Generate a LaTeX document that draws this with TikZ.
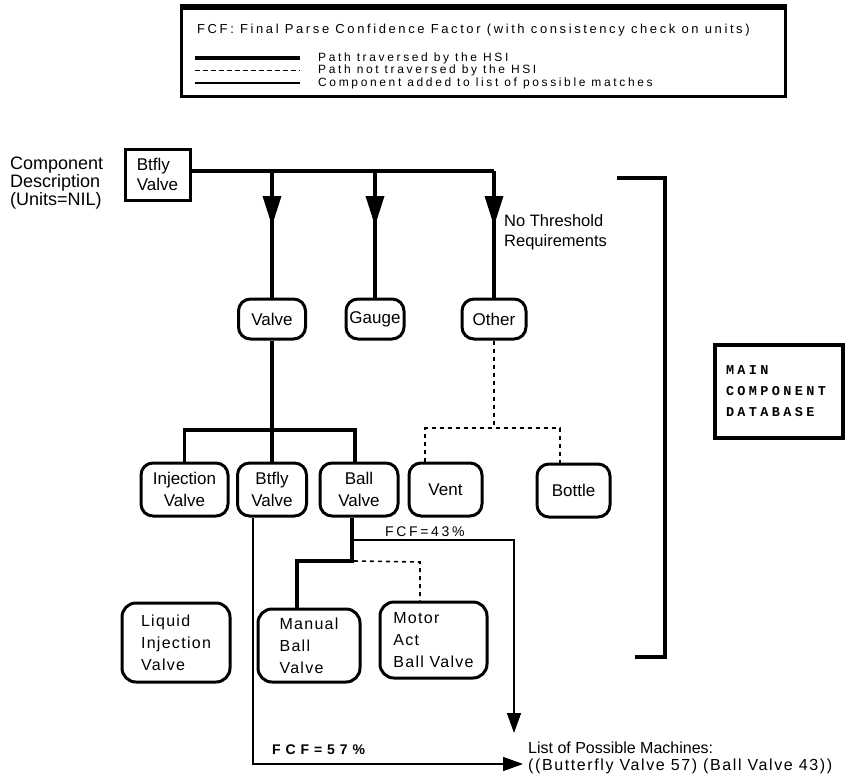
\documentclass[tikz,border=0pt]{standalone}
\usepackage{fontspec}
\setmainfont{Liberation Sans}
\newfontfamily\legfont{Liberation Sans}[LetterSpace=20]
\newfontfamily\legifont{Liberation Sans}[LetterSpace=22]
\newfontfamily\lsfont{Liberation Sans}[LetterSpace=8]
\newfontfamily\fcfont{Liberation Sans}[LetterSpace=19]
\newfontfamily\fcbfont{Liberation Sans}[LetterSpace=35]
\newfontfamily\wfont{Liberation Sans}[LetterSpace=10]
\newfontfamily\dbfont{Liberation Mono}[LetterSpace=25]
\usetikzlibrary{arrows.meta,decorations.markings}
\begin{document}
\begin{tikzpicture}[x=1pt,y=-1pt,
  thk/.style={line width=3.4pt},
  dsh/.style={line width=1.6pt,dash pattern=on 4pt off 4pt},
  thn/.style={line width=1.5pt},
  tip/.style={-{Triangle[length=20pt,width=14pt]}},
  marr/.style={postaction={decorate},decoration={markings,mark=at position 55pt with {\arrow{Triangle[length=30pt,width=18pt]}}}},
  rn/.style={draw,line width=3pt,rounded corners=12pt,inner sep=2pt,align=center,font=\fontsize{17}{22}\selectfont},
  rl/.style={draw,line width=3pt,rounded corners=14pt,inner sep=2pt,align=left,font=\lsfont\fontsize{16}{22}\selectfont},
  lbl/.style={inner sep=0pt,anchor=west},
  legtxt/.style={lbl,font=\legifont\fontsize{12}{12}\selectfont},
]
\useasboundingbox (0,0) rectangle (854,777);

% legend
\node[draw,line width=3pt,minimum width=604pt,minimum height=88pt,inner sep=0pt] (legend) at (483,52) {};
\draw[line width=5pt] (legend.north west) -- (legend.north east);
\node[lbl,font=\legfont\fontsize{13}{14}\selectfont] (fcf) at (197,30) {FCF: Final Parse Confidence Factor (with consistency check on units)};
\node[legtxt] (lg1) at (318,58) {Path traversed by the HSI};
\node[legtxt] (lg2) at (318,70.5) {Path not traversed by the HSI};
\node[legtxt] (lg3) at (318,83) {Component added to list of possible matches};
\coordinate (s1) at (195,58); \coordinate (s2) at (195,70.5); \coordinate (s3) at (195,83);
\coordinate (e1) at (300,58); \coordinate (e2) at (300,70.5); \coordinate (e3) at (300,83);
\draw[line width=4pt] (s1) -- (e1);
\draw[line width=1.4pt,dash pattern=on 5pt off 3pt] (s2) -- (e2);
\draw[thn] (s3) -- (e3);

% component description
\node[lbl,align=left,font=\fontsize{18}{18}\selectfont] (cdesc) at (10,183) {Component\\Description\\(Units=NIL)};
\node[draw,line width=3pt,minimum width=65pt,minimum height=51pt,inner sep=3pt,align=left,font=\fontsize{17}{20}\selectfont] (btbox) at (157.5,174.5) {Btfly\\Valve};

% row 1
\node[rn,minimum width=67pt,minimum height=40pt] (valve) at (272,319) {Valve};
\node[rn,minimum width=58pt,minimum height=40pt,inner sep=1pt] (gauge) at (375,319) {Gauge};
\node[rn,minimum width=64pt,minimum height=40pt] (other) at (494,319) {Other};
\node[lbl,align=left,font=\fontsize{16.5}{20}\selectfont] (nothr) at (504,232) {No Threshold\\Requirements};

% row 2
\node[rn,minimum width=87pt,minimum height=53pt] (inj) at (184.5,489.5) {Injection\\Valve};
\node[rn,minimum width=69pt,minimum height=53pt] (bt2) at (272,489.5) {Btfly\\Valve};
\node[rn,minimum width=78pt,minimum height=53pt] (ball) at (359,489.5) {Ball\\Valve};
\node[rn,minimum width=73pt,minimum height=53pt] (vent) at (445.5,489.5) {Vent};
\node[rn,minimum width=73pt,minimum height=53pt] (bottle) at (573.5,490.5) {Bottle};

% row 3
\node[rl,minimum width=108pt,minimum height=79pt] (liquid) at (176,642.5) {Liquid\\Injection\\Valve};
\node[rl,minimum width=102pt,minimum height=73pt] (manual) at (309,645.5) {Manual\\Ball\\Valve};
\node[rl,minimum width=107pt,minimum height=76pt] (motor) at (433.5,640) {Motor\\Act\\Ball Valve};

% database
\node[draw,line width=4pt,minimum width=128pt,minimum height=93pt,inner xsep=11pt,text width=106pt,align=left,font=\dbfont\bfseries\fontsize{13.5}{21}\selectfont] (db) at (779,391.5) {MAIN\\COMPONENT\\DATABASE};
\coordinate (bk1) at (617,178); \coordinate (bk2) at (665,178);
\coordinate (bk3) at (665,657); \coordinate (bk4) at (635,657);
\draw[line width=4.5pt] (bk1) -- (bk2) -- (bk3) -- (bk4);

% trunk
\coordinate (tr) at (494,171);
\draw[thk] (btbox.east |- tr) -- (tr);
\draw[thk,marr] (tr) -- (other.north);
\draw[thk,marr] (valve.north |- tr) -- (valve.north);
\draw[thk,marr] (gauge.north |- tr) -- (gauge.north);

% valve subtree
\coordinate (vb) at (272,430);
\coordinate (bd) at (355,430);
\draw[thk] (valve.south) -- (vb);
\draw[thk] (inj.north) |- (bd) -- (bd |- ball.north);
\draw[thk] (vb) -- (bt2.north);

% other subtree
\coordinate (vdd) at (425,428); \coordinate (bdd) at (560,428);
\draw[dsh] (other.south) -- (other.south |- vdd);
\draw[dsh] (vdd |- vent.north) -- (vdd) -- (bdd) -- (bdd |- bottle.north);

% ball subtree
\coordinate (bl) at (352,561); \coordinate (md) at (297,561); \coordinate (mo) at (420,562);
\draw[thk] (bl |- ball.south) -- (bl) -- (md) -- (md |- manual.north);
\draw[dsh] ([xshift=2pt]bl) -- (mo) -- (mo |- motor.north);

% results
\node[lbl,font=\fontsize{16}{16}\selectfont] (list1) at (528,748) {List of Possible Machines:};
\node[lbl,font=\wfont\fontsize{16}{16}\selectfont] (list2) at (528,766) {((Butterfly Valve 57) (Ball Valve 43))};
\coordinate (t43) at (354,540); \coordinate (c43) at (514,540); \coordinate (a43) at (514,733);
\draw[thn,tip] (t43) -- (c43) -- (a43);
\coordinate (x57) at (253,764);
\draw[thn,tip] (x57 |- bt2.south) -- (x57) -- ([xshift=-5pt]x57 -| list2.west);
\node[lbl,font=\fcfont\fontsize{14}{14}\selectfont] (f43) at (385,532) {FCF=43\%};
\node[lbl,font=\fcbfont\bfseries\fontsize{14}{14}\selectfont] (f57) at (272,750) {FCF=57\%};
\end{tikzpicture}
\end{document}
